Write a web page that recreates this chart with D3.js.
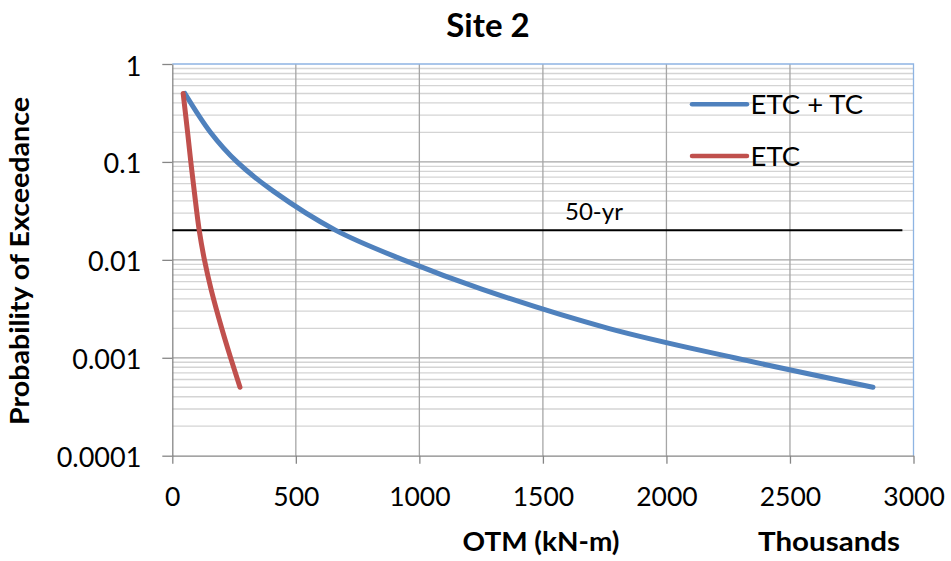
<!DOCTYPE html>
<html>
<head>
<meta charset="utf-8">
<script src="https://cdn.jsdelivr.net/npm/d3@7"></script>
<style>
  body { margin: 0; background: #fff; }
  text { font-family: Lato, "Open Sans", sans-serif; fill: #000; }
</style>
</head>
<body>
<svg id="chart" width="951" height="561"></svg>
<script>
// exceedance probabilities read at each curve point
const probs = [0.5, 0.2, 0.1, 0.05, 0.02, 0.01, 0.005, 0.002, 0.001, 0.0005];
// OTM (thousands kN-m) for each probability
const etcTcOtm = [51, 155, 262, 410, 662, 935, 1255, 1765, 2275, 2836];
const etcOtm = [44, 62, 75, 89, 109, 130, 157, 200, 236, 274];

const xTicks = [0, 500, 1000, 1500, 2000, 2500, 3000];
const yTicks = [1, 0.1, 0.01, 0.001, 0.0001];
const yTickLabels = ["1", "0.1", "0.01", "0.001", "0.0001"];

const refLevel = 0.02;         // 50-yr return period
const refRange = [0, 2955];
const refLabel = "50-yr";

const series = [
  { name: "ETC + TC", otm: etcTcOtm, color: "#4f81bd" },
  { name: "ETC", otm: etcOtm, color: "#c0504d" }
];

const plotL = 172.3, plotR = 913.5, plotT = 64, plotB = 455.7;
const svg = d3.select("#chart");

const x = d3.scaleLinear().domain([0, 3000]).range([plotL, plotR]);
const y = d3.scaleLog().domain([0.0001, 1]).range([plotB, plotT]);

// minor horizontal grid (2..9 within each decade)
const minor = [];
[0.0001, 0.001, 0.01, 0.1].forEach(d => {
  for (let k = 2; k <= 9; k++) minor.push(k * d);
});
svg.append("g").selectAll("line").data(minor).join("line")
  .attr("x1", plotL).attr("x2", plotR)
  .attr("y1", d => y(d)).attr("y2", d => y(d))
  .attr("stroke", "#d4d4d4").attr("stroke-width", 1.3);

// major grid
svg.append("g").selectAll("line").data(yTicks.slice(1, 4)).join("line")
  .attr("x1", plotL).attr("x2", plotR)
  .attr("y1", d => y(d)).attr("y2", d => y(d))
  .attr("stroke", "#a6a6a6").attr("stroke-width", 1.3);
svg.append("g").selectAll("line").data(xTicks.slice(1, 6)).join("line")
  .attr("x1", d => x(d)).attr("x2", d => x(d))
  .attr("y1", plotT).attr("y2", plotB)
  .attr("stroke", "#a6a6a6").attr("stroke-width", 1.3);

// plot area border (top & right)
svg.append("path")
  .attr("d", `M${plotL},${plotT}H${plotR}V${plotB}`)
  .attr("fill", "none").attr("stroke", "#8eb4e3").attr("stroke-width", 1.3);

// axes
const yAxis = svg.append("g")
  .attr("transform", `translate(${plotL},0)`)
  .call(d3.axisLeft(y).tickValues(yTicks).tickSize(10).tickSizeOuter(0)
    .tickFormat((d, i) => yTickLabels[i]));
yAxis.select(".domain").attr("stroke", "#868686").attr("stroke-width", 1.3);
yAxis.selectAll(".tick line").attr("stroke", "#868686").attr("stroke-width", 1.3);
yAxis.selectAll(".tick text")
  .attr("x", -31).attr("dy", null).attr("y", 11)
  .style("font-family", "Lato").style("font-size", "27px").attr("fill", "#000");

const xAxis = svg.append("g")
  .attr("transform", `translate(0,${plotB})`)
  .call(d3.axisBottom(x).tickValues(xTicks).tickSize(8).tickSizeOuter(0)
    .tickFormat(d3.format("d")));
xAxis.select(".domain").attr("stroke", "#868686").attr("stroke-width", 1.3);
xAxis.selectAll(".tick line").attr("stroke", "#868686").attr("stroke-width", 1.3);
xAxis.selectAll(".tick text")
  .attr("y", 50).attr("dy", null)
  .style("font-family", "Lato").style("font-size", "26.5px").attr("fill", "#000");

// 50-yr reference line
svg.append("line")
  .attr("x1", x(refRange[0])).attr("x2", x(refRange[1]))
  .attr("y1", y(refLevel)).attr("y2", y(refLevel))
  .attr("stroke", "#000").attr("stroke-width", 2);
svg.append("text")
  .attr("x", 565).attr("y", 219.5)
  .style("font-size", "24px")
  .text(refLabel);

// curves
const line = d3.line()
  .x(d => x(d[0])).y(d => y(d[1]))
  .curve(d3.curveCatmullRom.alpha(0.5));
series.forEach(s => {
  svg.append("path")
    .datum(s.otm.map((v, i) => [v, probs[i]]))
    .attr("d", line)
    .attr("fill", "none")
    .attr("stroke", s.color)
    .attr("stroke-width", 5)
    .attr("stroke-linecap", "round")
    .attr("stroke-linejoin", "round");
});

// legend
const legend = svg.append("g").selectAll("g").data(series).join("g")
  .attr("transform", (d, i) => `translate(692,${104.3 + i * 51.7})`);
legend.append("line")
  .attr("x1", 0).attr("x2", 55)
  .attr("stroke", d => d.color).attr("stroke-width", 4.5)
  .attr("stroke-linecap", "round");
legend.append("text")
  .attr("x", 58.5).attr("y", 9.5)
  .style("font-size", "27.5px")
  .text(d => d.name);

// titles
svg.append("text")
  .attr("x", 488).attr("y", 36.7)
  .attr("text-anchor", "middle")
  .style("font-size", "33px").style("font-weight", "bold")
  .text("Site 2");

svg.append("text")
  .attr("x", 541).attr("y", 550.5)
  .attr("text-anchor", "middle")
  .attr("textLength", 157).attr("lengthAdjust", "spacingAndGlyphs")
  .style("font-size", "27.5px").style("font-weight", "bold")
  .text("OTM (kN-m)");

svg.append("text")
  .attr("x", 829).attr("y", 550.5)
  .attr("text-anchor", "middle")
  .attr("textLength", 142).attr("lengthAdjust", "spacingAndGlyphs")
  .style("font-size", "27.5px").style("font-weight", "bold")
  .text("Thousands");

svg.append("text")
  .attr("transform", "translate(29,261) rotate(-90)")
  .attr("text-anchor", "middle")
  .attr("textLength", 328).attr("lengthAdjust", "spacingAndGlyphs")
  .style("font-size", "26px").style("font-weight", "bold")
  .text("Probability of Exceedance");
</script>
</body>
</html>
